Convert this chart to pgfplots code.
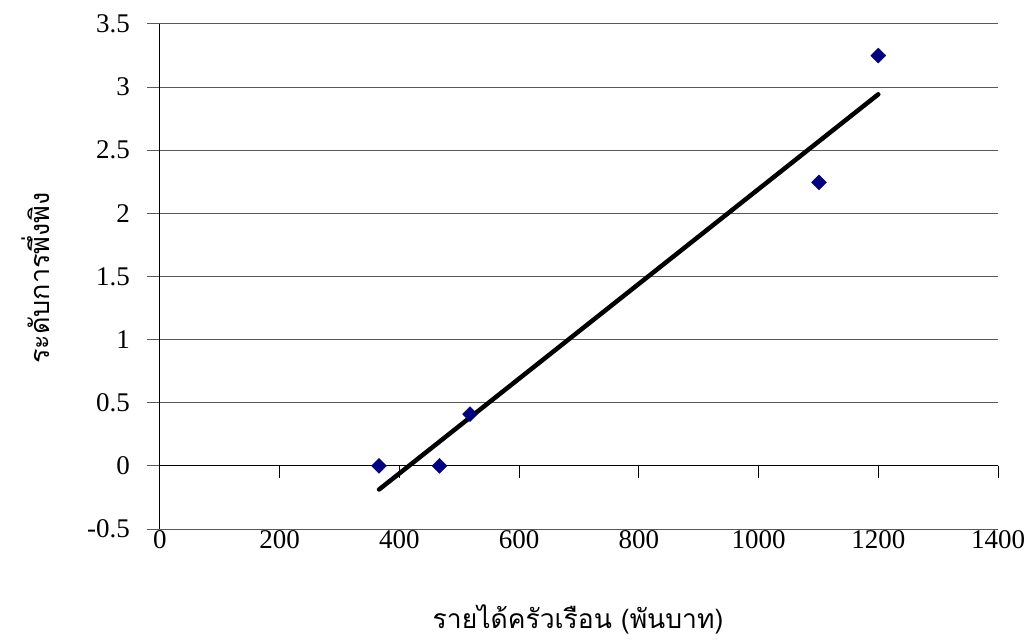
\documentclass[border=0pt]{standalone}
\usepackage{fontspec}
\setmainfont{Liberation Serif}
\newfontfamily\thaifont[Script=Thai]{Loma}
\usepackage{pgfplots}
\pgfplotsset{compat=1.18}
\definecolor{navy}{HTML}{000080}
\begin{document}
\begin{tikzpicture}
\useasboundingbox (-160pt,-111pt) rectangle (869pt,529pt);
\begin{axis}[
  at={(0,0)}, anchor=south west, scale only axis,
  width=838pt, height=505pt,
  xmin=0, xmax=1400, ymin=-0.5, ymax=3.5,
  xtick={0,200,400,600,800,1000,1200,1400},
  ytick={-0.5,0,0.5,1,1.5,2,2.5,3,3.5},
  axis lines*=left, axis line style={draw=none},
  ymajorgrids, grid style={black!65, line width=1pt},
  xtick style={draw=none},
  ytick align=outside, ytick style={black!65, line width=1pt},
  major tick length=13pt,
  ticklabel style={font=\fontsize{27}{32}\selectfont},
  xticklabel style={anchor=north, inner sep=0pt, yshift=-1pt},
  yticklabel style={anchor=east, inner sep=0pt, xshift=-17pt},
  /pgf/number format/assume math mode=true,
  /pgf/number format/1000 sep={},
  clip=false,
  xlabel={\thaifont รายได้ครัวเรือน (พันบาท)},
  xlabel style={at={(axis description cs:0.4988,-0.197)}, anchor=base, font=\fontsize{26.5}{30}\selectfont},
  ylabel={\thaifont ระดับการพึ่งพิง},
  ylabel style={at={(axis description cs:-0.1313,0.497)}, anchor=base, rotate=0, font=\fontsize{27}{30}\selectfont},
]
\draw[black, line width=1pt] (rel axis cs:0,0) -- (rel axis cs:0,1);
\draw[black, line width=1pt] (axis cs:0,0) -- (axis cs:1400,0);
\pgfplotsinvokeforeach{200,400,600,800,1000,1200,1400}{
  \draw[black, line width=1pt] (axis cs:#1,0) -- ++(0pt,-12pt);
}
\addplot[only marks, mark=square*, mark size=5.3pt,
  mark options={rotate=45, fill=navy, draw=navy}]
  coordinates {(366,0) (467,0) (518,0.41) (1101,2.245) (1200,3.25)};
\addplot[black, line width=4.5pt, line cap=round]
  coordinates {(366,-0.187) (1200,2.943)};
\end{axis}
\end{tikzpicture}
\end{document}
